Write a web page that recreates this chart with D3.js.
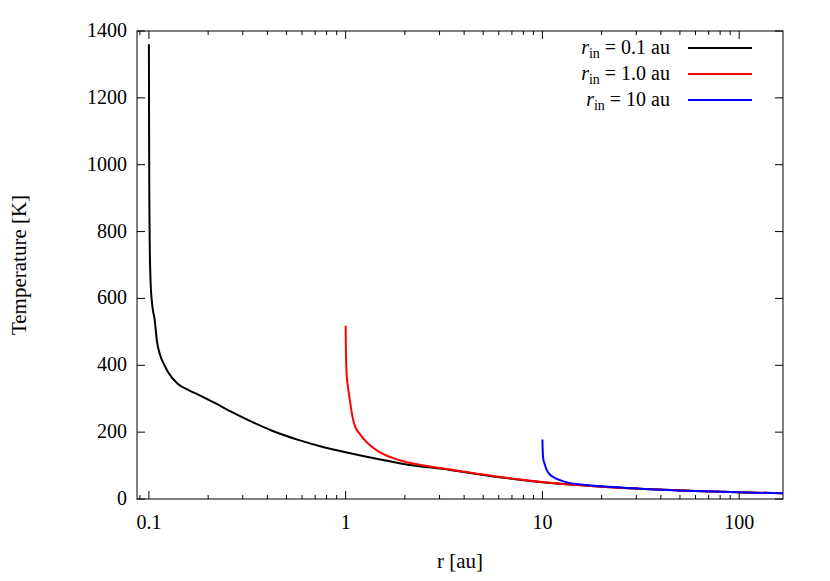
<!DOCTYPE html><html><head><meta charset="utf-8">
<script src="https://cdn.jsdelivr.net/npm/d3@7"></script>
<style>body{margin:0;background:#fff}</style></head><body>
<svg id="c" width="830" height="581" font-family="'Liberation Serif', 'DejaVu Serif', serif"></svg>
<script>
const blackR=[0.1,0.1002,0.1005,0.101,0.102,0.104,0.107,0.11,0.114,0.12,0.125,0.14,0.16,0.18,0.22,0.26,0.32,0.42,0.58,0.75,1,1.5,2,3.4,5,10,20,31,60,100,167];
const blackT=[1360,1100,900,760,650,580,536,470,431,400,380,345,325,311,285,262,236,205,176,157,140,118,104,87,72,50,37,31,24,20,17];
const redR=[1,1.002,1.005,1.01,1.02,1.03,1.05,1.08,1.11,1.18,1.25,1.49,1.88,2.5,3.4,5,10,20,31,60,100,167];
const redT=[518,460,420,380,350,330,296,250,221,195,176,140,116,100,88,73,51,37,31,24,20,17];
const blueR=[10,10.02,10.05,10.1,10.2,10.3,10.5,10.8,11.5,12.2,13.5,15.4,20,31,60,100,167];
const blueT=[178,155,135,120,110,102,88,76,64,57,49,44,38,31,24,20,17];
const xTicks=[0.1,1,10,100];
const yTicks=[0,200,400,600,800,1000,1200,1400];
const labels=["0.1","1.0","10"];
const colors=["#000000","#ff0000","#0000ff"];

const svg=d3.select("#c");
const L=137,R=783,T=31,B=499;
const x=d3.scaleLog().domain([0.0870,167]).range([L,R]);
const y=d3.scaleLinear().domain([0,1400]).range([B,T]);
const g=svg.append("g");
const minors=[];
for(let d=0.01;d<=100;d*=10)for(let k=2;k<=9;k++){const v=d*k;if(v>=0.087&&v<=167)minors.push(v);}
minors.forEach(v=>{g.append("line").attr("x1",x(v)).attr("x2",x(v)).attr("y1",B).attr("y2",B-4).attr("stroke","#000");
 g.append("line").attr("x1",x(v)).attr("x2",x(v)).attr("y1",T).attr("y2",T+4).attr("stroke","#000");});
xTicks.forEach(v=>{g.append("line").attr("x1",x(v)).attr("x2",x(v)).attr("y1",B).attr("y2",B-8).attr("stroke","#000");
 g.append("line").attr("x1",x(v)).attr("x2",x(v)).attr("y1",T).attr("y2",T+8).attr("stroke","#000");
 g.append("text").attr("x",x(v)).attr("y",B+30).attr("text-anchor","middle").attr("font-size",20).text(v);});
yTicks.forEach(v=>{g.append("line").attr("x1",L).attr("x2",L+8).attr("y1",y(v)).attr("y2",y(v)).attr("stroke","#000");
 g.append("line").attr("x1",R).attr("x2",R-8).attr("y1",y(v)).attr("y2",y(v)).attr("stroke","#000");
 g.append("text").attr("x",L-10).attr("y",y(v)+6).attr("text-anchor","end").attr("font-size",20).text(v);});
g.append("rect").attr("x",L).attr("y",T).attr("width",R-L).attr("height",B-T).attr("fill","none").attr("stroke","#000");
const line=d3.line().x(d=>x(d[0])).y(d=>y(d[1])).curve(d3.curveMonotoneX);
[[blackR,blackT],[redR,redT],[blueR,blueT]].forEach((s,i)=>{
 g.append("path").attr("d",line(s[0].map((r,j)=>[r,s[1][j]]))).attr("fill","none").attr("stroke",colors[i]).attr("stroke-width",2);
 const ly=48+i*26;
 g.append("line").attr("x1",688).attr("x2",752).attr("y1",ly).attr("y2",ly).attr("stroke",colors[i]).attr("stroke-width",2);
 const t=g.append("text").attr("x",670).attr("y",ly+6).attr("text-anchor","end").attr("font-size",20);
 t.append("tspan").attr("font-style","italic").text("r");
 t.append("tspan").attr("font-size",14).attr("dy",4).text("in");
 t.append("tspan").attr("dy",-4).text(" = "+labels[i]+" au");
});
g.append("text").attr("x",460).attr("y",568).attr("text-anchor","middle").attr("font-size",21).text("r [au]");
g.append("text").attr("transform","translate(26,265) rotate(-90)").attr("text-anchor","middle").attr("font-size",21).text("Temperature [K]");
</script></body></html>
